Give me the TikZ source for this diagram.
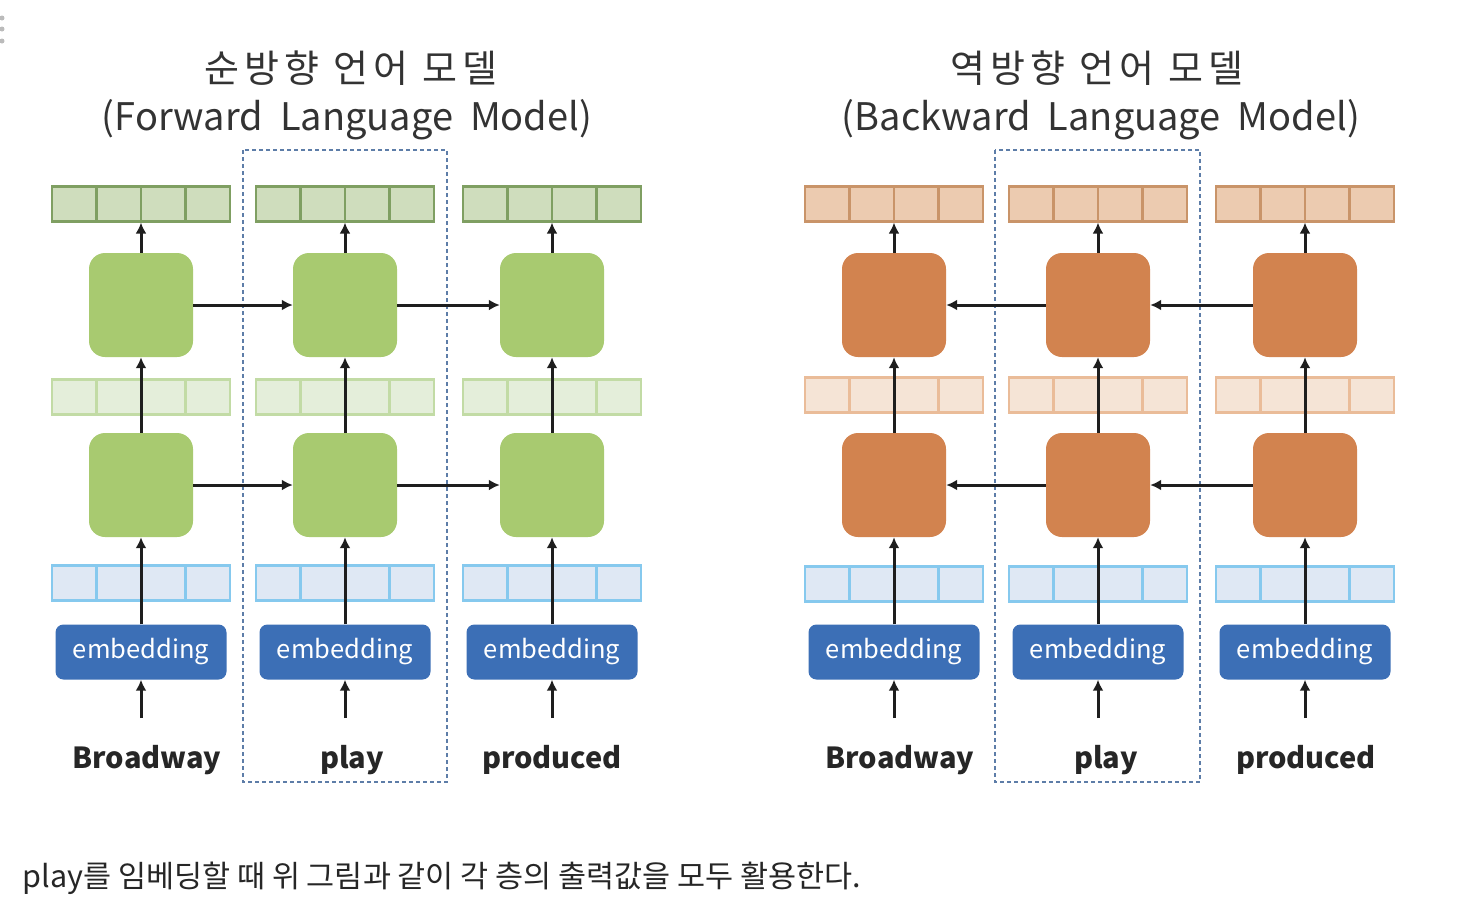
\documentclass[tikz,border=0pt]{standalone}
\usepackage{fontspec}
\setmainfont{Noto Sans CJK KR}
\usetikzlibrary{arrows.meta}
\definecolor{fgCell}{HTML}{A8CA70}
\definecolor{fgOut}{HTML}{CFDDBD}
\definecolor{fgOutD}{HTML}{7F9F62}
\definecolor{fgMid}{HTML}{E4EEDA}
\definecolor{fgMidD}{HTML}{C2DBA5}
\definecolor{bgCell}{HTML}{D2834F}
\definecolor{bgOut}{HTML}{ECCBB0}
\definecolor{bgOutD}{HTML}{C99469}
\definecolor{bgMid}{HTML}{F5E4D6}
\definecolor{bgMidD}{HTML}{EABC99}
\definecolor{inF}{HTML}{DFE8F4}
\definecolor{inD}{HTML}{86C9EE}
\definecolor{embblue}{HTML}{3C6FB6}
\definecolor{selblue}{HTML}{5D7DA8}
\definecolor{titlegray}{HTML}{333333}
\definecolor{wordgray}{HTML}{262626}
\definecolor{arrgray}{HTML}{1E1E1E}
\definecolor{dotgray}{HTML}{BBBBBB}
\begin{document}
\begin{tikzpicture}[x=1pt,y=-1pt,
  vec/.style 2 args={draw=#1,fill=#2,line width=2.2pt,minimum width=178pt,minimum height=35pt,inner sep=0pt,
    path picture={\foreach \k in {1,2,3}
      \draw[#1,line width=2.2pt] ([xshift=\k*44.5pt]path picture bounding box.south west) -- ([xshift=\k*44.5pt]path picture bounding box.north west);}},
  cell/.style={fill=#1,minimum width=104pt,minimum height=104pt,rounded corners=16pt,inner sep=0pt},
  emb/.style={fill=embblue,rounded corners=8pt,minimum width=171pt,minimum height=55pt,inner sep=0pt,text=white,font=\fontsize{25.5}{25.5}\selectfont},
  word/.style={anchor=base,inner sep=0pt,text=wordgray,font=\fontsize{29}{29}\selectfont\bfseries},
  arr/.style={draw=arrgray,line width=3pt,-{Latex[length=11pt,width=11pt]}},
  sel/.style={draw=selblue,line width=1.6pt,dash pattern=on 4pt off 3pt},
  title/.style={text=titlegray,font=\fontsize{38}{38}\selectfont}]
\useasboundingbox (0,0) rectangle (1476,924);
\foreach \y in {18,29,41} \fill[dotgray] (2,\y) circle (2.5pt);
% forward language model
\node[title] (ftitle) at (351,68) {\addfontfeature{LetterSpace=14}순방향 언어 모델};
\node[title] (fsub) at (347,120) {(Forward\ \ Language\ \ Model)};
\draw[sel] (243,150) rectangle (447,782);
\foreach \i/\x/\w/\wx in {1/141/Broadway/147,2/345/play/352,3/552/produced/552}{
  \node[vec={fgOutD}{fgOut}] (fout\i) at (\x,204) {};
  \node[cell=fgCell] (fhigh\i) at (\x,305) {};
  \node[vec={fgMidD}{fgMid}] (fmid\i) at (\x,397) {};
  \node[cell=fgCell] (flow\i) at (\x,485) {};
  \node[vec={inD}{inF}] (fin\i) at (\x,583) {};
  \node[emb] (femb\i) at (\x,652) {embedding};
  \node[word] (fword\i) at (\wx,768) {\w};
  \coordinate (fsrc\i) at (\x,718);
  \draw[arr] (fsrc\i) -- (femb\i);
  \draw[arr] (femb\i) -- (flow\i);
  \draw[arr] (flow\i) -- (fhigh\i);
  \draw[arr] (fhigh\i) -- (fout\i);
}
\draw[arr] (fhigh1) -- (fhigh2);
\draw[arr] (fhigh2) -- (fhigh3);
\draw[arr] (flow1) -- (flow2);
\draw[arr] (flow2) -- (flow3);
% backward language model
\node[title] (btitle) at (1097,68) {\addfontfeature{LetterSpace=14}역방향 언어 모델};
\node[title] (bsub) at (1101,120) {(Backward\ \ Language\ \ Model)};
\draw[sel] (995,150) rectangle (1200,782);
\foreach \i/\x/\w/\wx in {1/894/Broadway/900,2/1098/play/1106,3/1305/produced/1306}{
  \node[vec={bgOutD}{bgOut}] (bout\i) at (\x,204) {};
  \node[cell=bgCell] (bhigh\i) at (\x,305) {};
  \node[vec={bgMidD}{bgMid}] (bmid\i) at (\x,395) {};
  \node[cell=bgCell] (blow\i) at (\x,485) {};
  \node[vec={inD}{inF}] (bin\i) at (\x,584) {};
  \node[emb] (bemb\i) at (\x,652) {embedding};
  \node[word] (bword\i) at (\wx,768) {\w};
  \coordinate (bsrc\i) at (\x,718);
  \draw[arr] (bsrc\i) -- (bemb\i);
  \draw[arr] (bemb\i) -- (blow\i);
  \draw[arr] (blow\i) -- (bhigh\i);
  \draw[arr] (bhigh\i) -- (bout\i);
}
\draw[arr] (bhigh3) -- (bhigh2);
\draw[arr] (bhigh2) -- (bhigh1);
\draw[arr] (blow3) -- (blow2);
\draw[arr] (blow2) -- (blow1);
\node[anchor=west,text=wordgray,font=\fontsize{30.5}{30.5}\selectfont] (caption) at (19,878) {play를 임베딩할 때 위 그림과 같이 각 층의 출력값을 모두 활용한다.};
\end{tikzpicture}
\end{document}
